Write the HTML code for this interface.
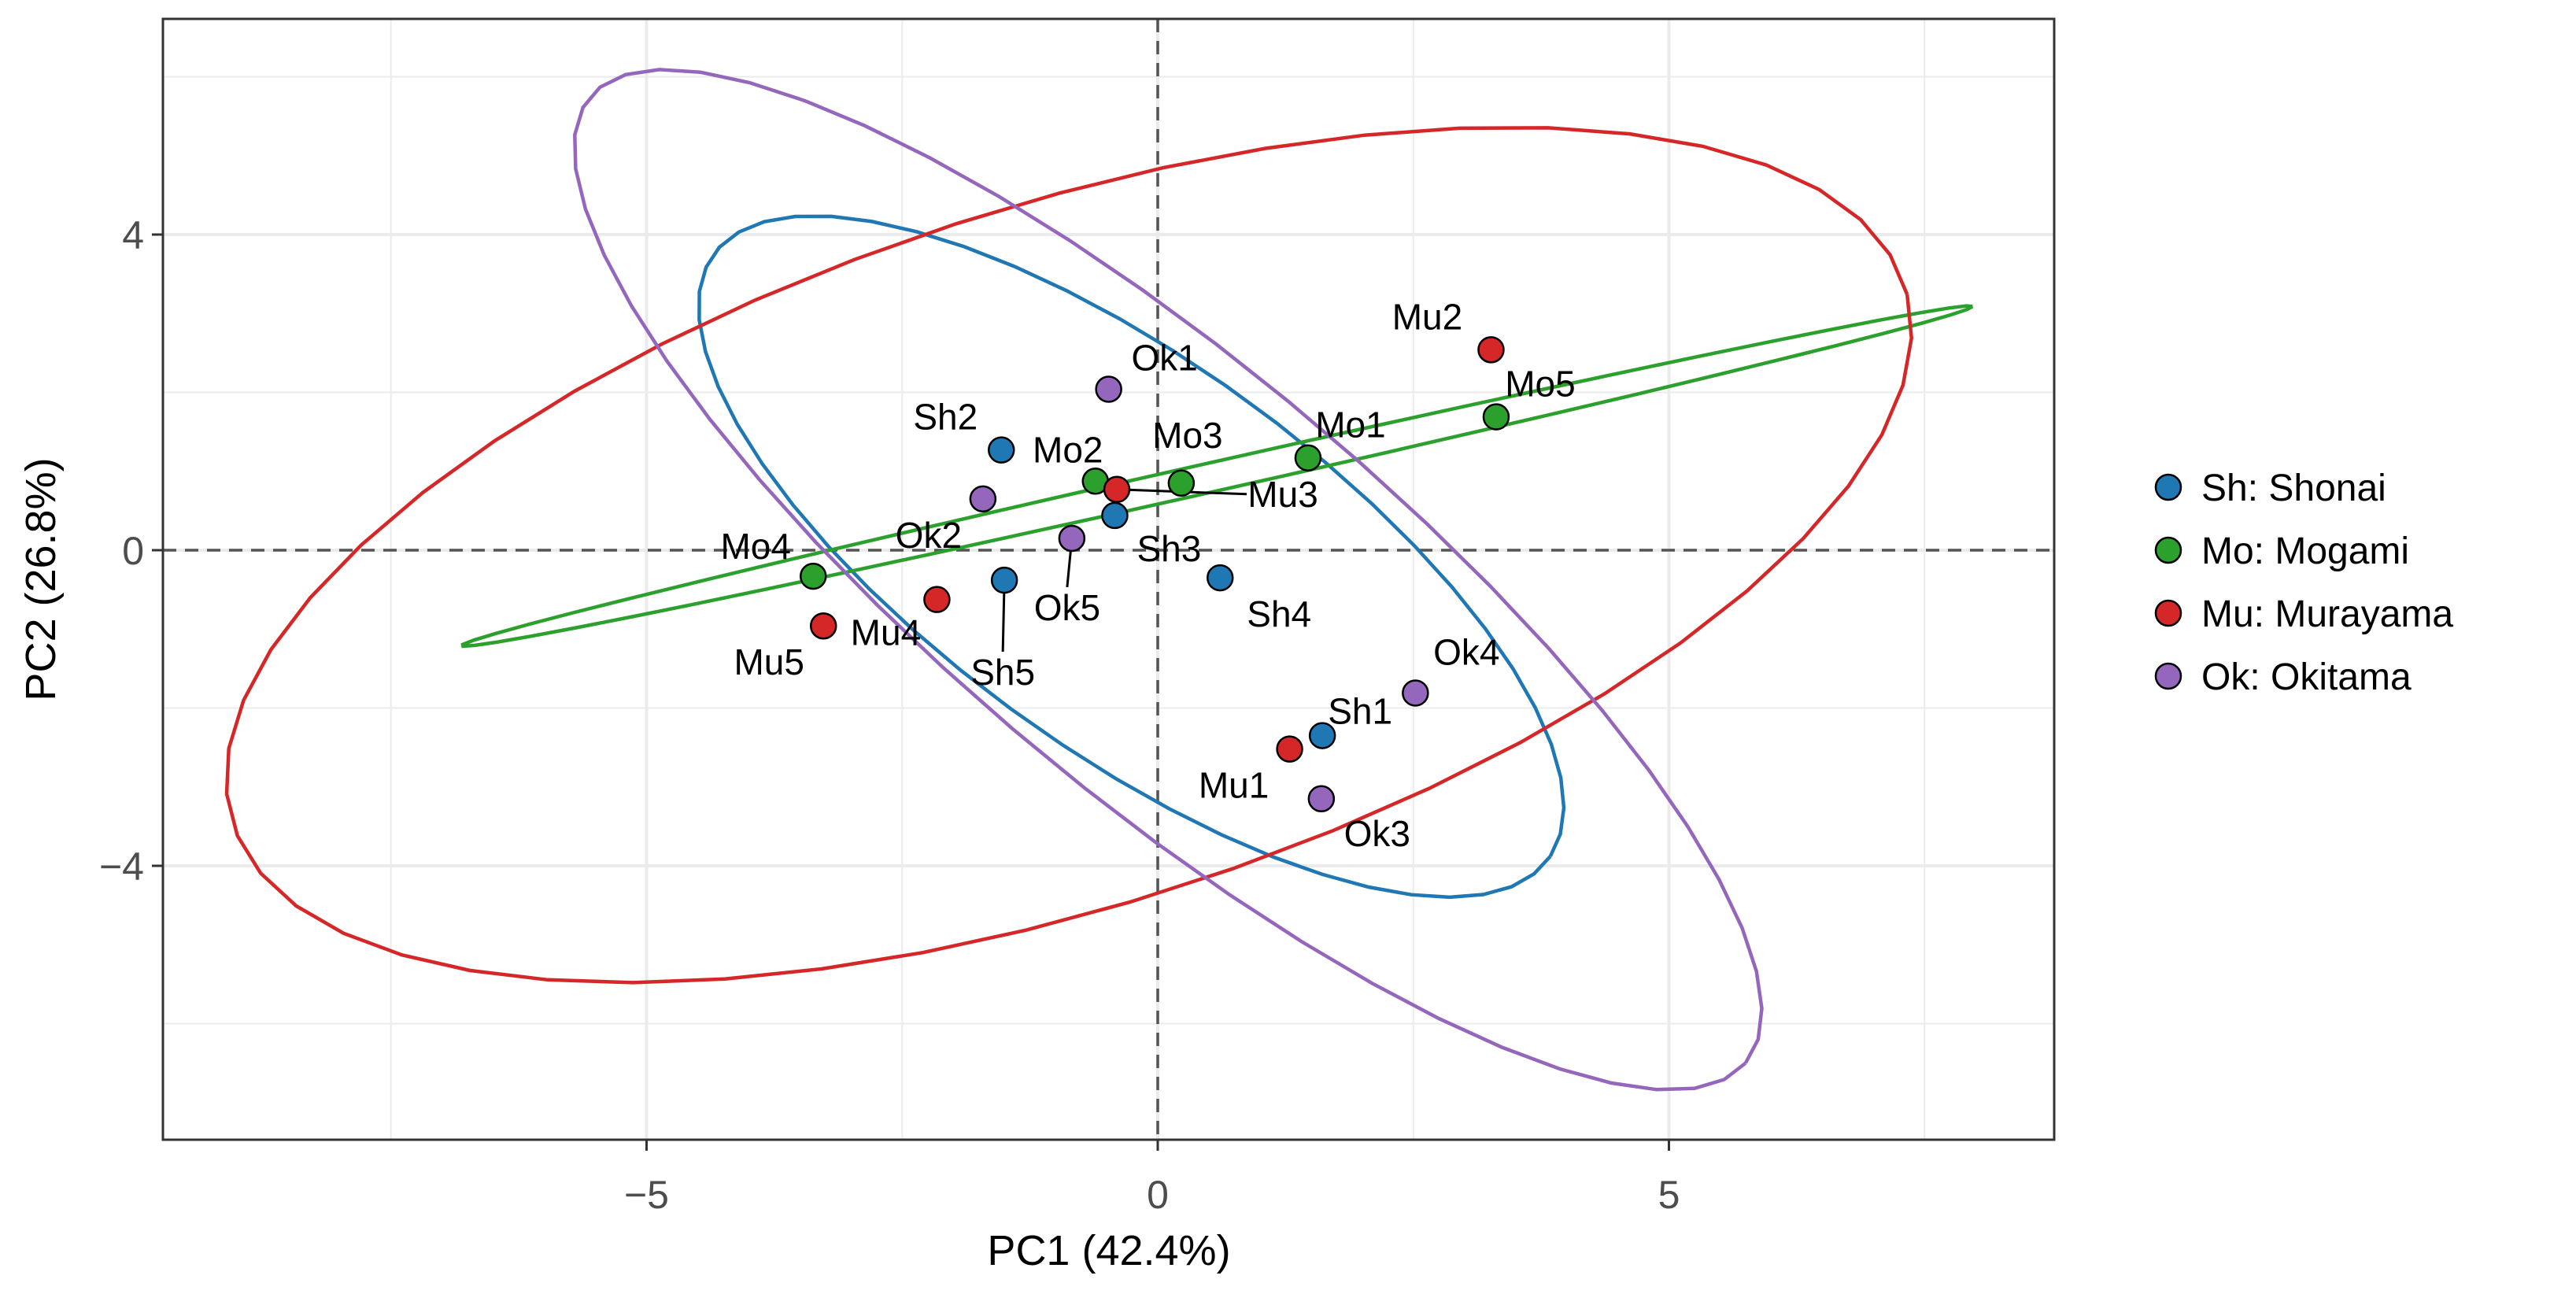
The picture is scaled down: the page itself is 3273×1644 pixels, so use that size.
<!DOCTYPE html>
<html><head><meta charset="utf-8">
<style>
html,body{margin:0;padding:0;background:#fff;}
svg{display:block;font-family:"Liberation Sans",Arial,sans-serif;}
</style></head>
<body>
<svg id="chart" width="3273" height="1644" viewBox="0 0 3273 1644" xmlns="http://www.w3.org/2000/svg">
<rect x="0" y="0" width="3273" height="1644" fill="#fff"/>
<g id="grid"></g>
<g id="ellipses"></g>
<g id="points"></g>
<rect x="207" y="24" width="2403" height="1424" fill="none" stroke="#333" stroke-width="3"/>
<g id="axes"></g>
<text x="1409" y="1607" font-size="54" text-anchor="middle" fill="#000">PC1 (42.4%)</text>
<text x="0" y="0" font-size="54" text-anchor="middle" fill="#000" transform="translate(70,736) rotate(-90)">PC2 (26.8%)</text>
<g id="legend"></g>
</svg>
<script>
const groups = ["Sh: Shonai","Mo: Mogami","Mu: Murayama","Ok: Okitama"];
const groupColors = ["#1F77B4","#2CA02C","#D62728","#9467BD"];
const labels = ["Sh1","Sh2","Sh3","Sh4","Sh5","Mo1","Mo2","Mo3","Mo4","Mo5","Mu1","Mu2","Mu3","Mu4","Mu5","Ok1","Ok2","Ok3","Ok4","Ok5"];
const pointGroup = [0,0,0,0,0,1,1,1,1,1,2,2,2,2,2,3,3,3,3,3];
const pc1 = [1.61,-1.53,-0.42,0.61,-1.50,1.47,-0.61,0.23,-3.37,3.31,1.29,3.26,-0.40,-2.16,-3.27,-0.48,-1.71,1.60,2.52,-0.84];
const pc2 = [-2.35,1.27,0.44,-0.35,-0.38,1.17,0.875,0.85,-0.33,1.69,-2.52,2.54,0.77,-0.625,-0.96,2.04,0.65,-3.15,-1.81,0.15];
// ellipse centers and conjugate semi-axes (data units)
const ellCx = [-0.26,0.58,-0.87,0.10];
const ellCy = [-0.08,0.94,-0.06,-0.375];
const ellU = [[4.1,-3.8],[7.39,2.15],[8.2,3.3],[5.65,-6.125]];
const ellV = [[-1.05,-2.05],[0.03,-0.18],[0.85,-4.3],[-1.35,-2.075]];
const xTicks = [-5,0,5];
const yTicks = [-4,0,4];
const xMinor = [-7.5,-2.5,2.5,7.5];
const yMinor = [-6,-2,2,6];

const NS="http://www.w3.org/2000/svg";
const PL=207, PR=2610, PT=24, PB=1448;
const X = v => 1471 + 129.9*v;
const Y = v => 699 - 100.25*v;
// label offsets in pixels [dx,dy,hasSegment]
const labelOff = [[48,-31,0],[-71,-42,0],[69,42,0],[75,46,0],[-2,117,1],[54,-42,0],[-35,-40,0],[8,-61,0],[-73,-38,0],[56,-42,0],[-71,46,0],[-81,-42,0],[211,6,1],[-65,42,0],[-69,46,0],[71,-40,0],[-69,46,0],[71,44,0],[65,-52,0],[-6,88,1]];

function mk(tag, attrs, parent){const e=document.createElementNS(NS,tag);for(const k in attrs)e.setAttribute(k,attrs[k]);parent.appendChild(e);return e;}
const grid=document.getElementById('grid');
mk('rect',{x:PL,y:PT,width:PR-PL,height:PB-PT,fill:'#fff'},grid);
xMinor.forEach(v=>{const l=mk('line',{x1:X(v),x2:X(v),y1:PT,y2:PB,stroke:'#EBEBEB','stroke-width':2},grid);});
yMinor.forEach(v=>{const l=mk('line',{x1:PL,x2:PR,y1:Y(v),y2:Y(v),stroke:'#EBEBEB','stroke-width':2},grid);});
xTicks.forEach(v=>{const l=mk('line',{x1:X(v),x2:X(v),y1:PT,y2:PB,stroke:'#EBEBEB','stroke-width':4},grid);});
yTicks.forEach(v=>{const l=mk('line',{x1:PL,x2:PR,y1:Y(v),y2:Y(v),stroke:'#EBEBEB','stroke-width':4},grid);});
let zl=mk('line',{x1:X(0),x2:X(0),y1:PT,y2:PB,stroke:'#555','stroke-width':3.5,'stroke-dasharray':'17 11'},grid);


zl=mk('line',{x1:PL,x2:PR,y1:Y(0),y2:Y(0),stroke:'#555','stroke-width':3.5,'stroke-dasharray':'17 11'},grid);



const eg=document.getElementById('ellipses');
for(let g=0;g<4;g++){
  let d='';
  for(let i=0;i<=51;i++){const t=2*Math.PI*i/51;
    const x=ellCx[g]+ellU[g][0]*Math.cos(t)+ellV[g][0]*Math.sin(t);
    const y=ellCy[g]+ellU[g][1]*Math.cos(t)+ellV[g][1]*Math.sin(t);
    d+=(i?'L':'M')+X(x).toFixed(1)+' '+Y(y).toFixed(1);}
  const p=mk('path',{d:d,fill:'none',stroke:groupColors[g],'stroke-width':4.5},eg);
  
  
}

const pg=document.getElementById('points');
for(let i=0;i<labels.length;i++){
  const px=X(pc1[i]), py=Y(pc2[i]);
  const o=labelOff[i];
  const lx=px+o[0], ly=py+o[1];
  if(o[2]){
    let x2=lx,y2=ly;
    if(Math.abs(o[0])>Math.abs(o[1])){x2=lx-(o[0]>0?46:-46);} else {y2=ly-(o[1]>0?26:-26);}
    const s=mk('line',{x1:px,y1:py,x2:x2,y2:y2,stroke:'#000','stroke-width':3},pg);
    
    
  }
}
for(let i=0;i<labels.length;i++){
  const px=X(pc1[i]), py=Y(pc2[i]);
  const c=mk('circle',{cx:px,cy:py,r:16,fill:groupColors[pointGroup[i]],stroke:'#000','stroke-width':2.5},pg);
  
  
  const o=labelOff[i];
  const t=mk('text',{x:px+o[0],y:py+o[1]+16,'font-size':46,'text-anchor':'middle',fill:'#000'},pg);
  t.textContent=labels[i];
  
  
}

const ax=document.getElementById('axes');
xTicks.forEach(v=>{
  const l=mk('line',{x1:X(v),x2:X(v),y1:PB,y2:PB+14,stroke:'#333','stroke-width':3},ax);
  
  
  const t=mk('text',{x:X(v),y:1535,'font-size':50,'text-anchor':'middle',fill:'#4D4D4D'},ax);
  t.textContent=v<0?'\u2212'+Math.abs(v):String(v);
  
  
});
yTicks.forEach(v=>{
  const l=mk('line',{x1:PL-14,x2:PL,y1:Y(v),y2:Y(v),stroke:'#333','stroke-width':3},ax);
  
  
  const t=mk('text',{x:PL-24,y:Y(v)+18,'font-size':50,'text-anchor':'end',fill:'#4D4D4D'},ax);
  t.textContent=v<0?'\u2212'+Math.abs(v):String(v);
  
  
});

const lg=document.getElementById('legend');
for(let g=0;g<4;g++){
  const y=619+g*80;
  const c=mk('circle',{cx:2755,cy:y,r:16,fill:groupColors[g],stroke:'#000','stroke-width':2.5},lg);
  
  
  const t=mk('text',{x:2797,y:y+17,'font-size':48,fill:'#000'},lg);
  t.textContent=groups[g];
  
  
}
</script>
</body></html>
